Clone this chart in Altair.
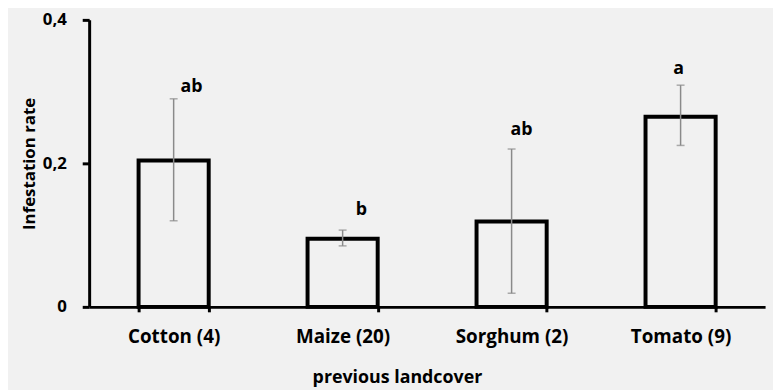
import altair as alt
import pandas as pd

categories = ["Cotton (4)", "Maize (20)", "Sorghum (2)", "Tomato (9)"]
means = [0.204, 0.095, 0.119, 0.265]
err_low = [0.120, 0.085, 0.019, 0.225]
err_high = [0.290, 0.107, 0.220, 0.309]
letters = ["ab", "b", "ab", "a"]
letter_y = [0.300, 0.128, 0.239, 0.324]
letter_dx = [18, 19, 10, -2]

df = pd.DataFrame({
    "cat": categories, "mean": means, "lo": err_low, "hi": err_high,
    "letter": letters, "ly": letter_y,
})

BG = "#f1f1f1"
FONT = "Open Sans"

xscale = alt.Scale(domain=categories, paddingInner=0.585, paddingOuter=0.2925)
yscale = alt.Scale(domain=[0, 0.4], nice=False)

x = alt.X("cat:N", scale=xscale, sort=categories,
          axis=alt.Axis(title="previous landcover", labelAngle=0, tickBand="extent",
                        tickSize=5, tickWidth=3, tickColor="black",
                        domainColor="black", domainWidth=3,
                        labelFont=FONT, labelFontSize=19, labelFontWeight="bold",
                        labelColor="black", labelBaseline="alphabetic", labelPadding=31,
                        titleFont=FONT, titleFontSize=18, titleFontWeight="bold",
                        titleColor="black", titleX=311, titleY=76,
                        titleAlign="center", titleBaseline="alphabetic"))

yaxis = alt.Axis(title="Infestation rate", values=[0, 0.2, 0.4], grid=False,
                 labelExpr="datum.value == 0 ? '0' : replace(format(datum.value, '.1f'), '.', ',')",
                 tickSize=7, tickWidth=3, tickColor="black",
                 domainColor="black", domainWidth=3,
                 labelFont=FONT, labelFontSize=17, labelFontWeight="bold",
                 labelColor="black", labelPadding=16, labelBaseline="middle",
                 titleFont=FONT, titleFontSize=17, titleFontWeight="bold",
                 titleColor="black", titleX=-60, titleY=145, titleAngle=270,
                 titleAlign="center", titleBaseline="middle")

base = alt.Chart(df)

bars = base.mark_bar(fill=BG, stroke="black", strokeWidth=4).encode(
    x=x, y=alt.Y("mean:Q", scale=yscale, axis=yaxis))

rules = base.mark_rule(color="#8a8a8a", strokeWidth=1.5).encode(
    x=alt.X("cat:N", scale=xscale, sort=categories),
    y=alt.Y("lo:Q", scale=yscale), y2="hi:Q")

cap_lo = base.mark_tick(color="#8a8a8a", thickness=1.5, size=8).encode(
    x=alt.X("cat:N", scale=xscale, sort=categories),
    y=alt.Y("lo:Q", scale=yscale))
cap_hi = base.mark_tick(color="#8a8a8a", thickness=1.5, size=8).encode(
    x=alt.X("cat:N", scale=xscale, sort=categories),
    y=alt.Y("hi:Q", scale=yscale))

texts = []
for c, dx in zip(categories, letter_dx):
    texts.append(
        base.transform_filter(alt.datum.cat == c).mark_text(
            font=FONT, fontSize=18, fontWeight="bold", color="black",
            baseline="alphabetic", dx=dx).encode(
            x=alt.X("cat:N", scale=xscale, sort=categories),
            y=alt.Y("ly:Q", scale=yscale), text="letter:N"))

chart = alt.layer(bars, rules, cap_lo, cap_hi, *texts).properties(
    width=683, height=290, background=BG,
    autosize=alt.AutoSizeParams(type="none"),
    padding={"left": 82, "top": 10, "right": 8, "bottom": 82},
).configure_view(stroke=None)

chart.save("out.html", embed_options={"renderer": "svg", "actions": False})
